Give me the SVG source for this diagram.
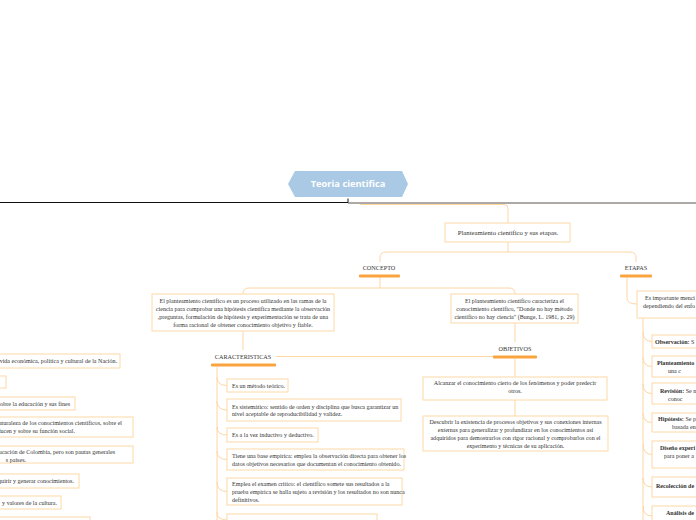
<svg xmlns="http://www.w3.org/2000/svg" width="696" height="520" viewBox="0 0 696 520">
<style>
.bg{fill:#ffffff}
.node{fill:#ffffff;stroke:#fdd9a6;stroke-width:1}
.con{fill:none;stroke:#fdd6a2;stroke-width:1}
.bar{fill:#f9a43f}
.t{font-family:"Liberation Serif","Times New Roman",serif;font-size:6.05px;fill:#333333}
.tc{text-anchor:middle}
.te{text-anchor:end}
.lbl{font-family:"Liberation Serif","Times New Roman",serif;font-size:6.2px;fill:#333333;text-anchor:middle}
.b{font-weight:bold}
.root{font-family:"Open Sans","DejaVu Sans",sans-serif;font-size:9.3px;font-weight:bold;fill:#ffffff;text-anchor:middle}
</style>
<rect class="bg" x="0" y="0" width="696" height="520"/>

<g id="connectors">
  <line x1="0" y1="202.5" x2="348" y2="202.5" stroke="#111111" stroke-width="1.2"/>
  <line x1="348" y1="203" x2="696" y2="203" stroke="#5a5550" stroke-width="1.2"/>
  <line x1="348" y1="198.5" x2="348" y2="202.5" stroke="#111111" stroke-width="1"/>
  <path class="con" d="M360,204.5 L504,204.5 Q508,204.5 508,208.5 L508,223"/>
  <path class="con" d="M508,242 L508,252"/>
  <path class="con" d="M508,252 L386,252 Q380,252 380,258 L380,262"/>
  <path class="con" d="M508,252 L630,252 Q636,252 636,258 L636,262"/>
  <path class="con" d="M380,277 L380,288"/>
  <path class="con" d="M249,288 L509,288"/>
  <path class="con" d="M249,288 Q243,288 243,294"/>
  <path class="con" d="M509,288 Q515,288 515,294"/>
  <path class="con" d="M243,331 L243,350"/>
  <path class="con" d="M515,323 L515,342"/>
  <path class="con" d="M276,356.5 L493,356.5"/>
  <path class="con" d="M515,359 L515,377"/>
  <path class="con" d="M515,400 L515,416"/>
  <path class="con" d="M217,367 L217,520"/>
  <path class="con" d="M217,377 Q217,385.5 227,385.5"/>
  <path class="con" d="M217,401 Q217,410 227,410"/>
  <path class="con" d="M217,427 Q217,435 227,435"/>
  <path class="con" d="M217,451 Q217,459.5 227,459.5"/>
  <path class="con" d="M217,482 Q217,491.5 227,491.5"/>
  <path class="con" d="M217,512 Q217,520 227,520"/>
  <path class="con" d="M627,278 L627,298 Q627,304 637,304"/>
  <path class="con" d="M643,318 L643,520"/>
  <path class="con" d="M643,332 Q643,341.5 652,341.5"/>
  <path class="con" d="M643,357 Q643,366.5 652,366.5"/>
  <path class="con" d="M643,384 Q643,393.5 652,393.5"/>
  <path class="con" d="M643,413 Q643,422.5 652,422.5"/>
  <path class="con" d="M643,444 Q643,454.5 652,454.5"/>
  <path class="con" d="M643,478 Q643,487 652,487"/>
  <path class="con" d="M643,506 Q643,516 652,516"/>
</g>

<g id="root">
  <polygon points="288,184 295,171 402,171 408,184 402,197 295,197" fill="#a9c9e4"/>
  <text class="root" x="348" y="187.3">Teoria cientifica</text>
</g>

<g id="planteamiento">
  <rect class="node" x="445" y="223" width="125" height="19"/>
  <text class="t tc" x="508" y="234.5" style="font-size:6.7px">Planteamiento científico y sus etapas.</text>
</g>

<g id="concepto">
  <text class="lbl" x="379" y="270">CONCEPTO</text>
  <rect class="bar" x="359" y="274.5" width="41" height="3" rx="1"/>
</g>

<g id="etapas">
  <text class="lbl" x="636" y="270">ETAPAS</text>
  <rect class="bar" x="620" y="274.5" width="32" height="3" rx="1"/>
</g>

<g id="concepto-def">
  <rect class="node" x="152" y="294" width="182" height="37"/>
  <text class="t tc" x="243" y="302.5">El planteamiento científico es un proceso utilizado en las ramas de la</text>
  <text class="t tc" x="243" y="310.5">ciencia para comprobar una hipótesis científica mediante la observación</text>
  <text class="t tc" x="243" y="318.5">,preguntas, formulación  de hipótesis y experimentación se trata de una</text>
  <text class="t tc" x="243" y="326.5">forma racional de obtener conocimiento objetivo y fiable.</text>
</g>

<g id="concepto-bunge">
  <rect class="node" x="451" y="294" width="127" height="29"/>
  <text class="t tc" x="514.5" y="302.5">El planteamiento científico caracteriza el</text>
  <text class="t tc" x="514.5" y="310.5">conocimiento científico, "Donde no hay método</text>
  <text class="t tc" x="514.5" y="318.5">científico no hay ciencia" (Bunge, L. 1981, p. 29)</text>
</g>

<g id="caracteristicas">
  <text class="lbl" x="243" y="359">CARACTERISTICAS</text>
  <rect class="bar" x="211" y="363.5" width="65" height="3" rx="1"/>
</g>

<g id="objetivos">
  <text class="lbl" x="515" y="351">OBJETIVOS</text>
  <rect class="bar" x="493" y="355.5" width="44" height="3" rx="1"/>
</g>

<g id="car-1">
  <rect class="node" x="227" y="379" width="61" height="13"/>
  <text class="t" x="232" y="387.5">Es un método teórico.</text>
</g>
<g id="car-2">
  <rect class="node" x="227" y="399" width="174" height="22"/>
  <text class="t" x="232" y="408.5">Es sistemático: sentido de orden y disciplina que busca garantizar un</text>
  <text class="t" x="232" y="416">nivel aceptable de reproducibilidad y validez.</text>
</g>
<g id="car-3">
  <rect class="node" x="227" y="428" width="91" height="14"/>
  <text class="t" x="232" y="437"> Es a la vez inductivo y deductivo.</text>
</g>
<g id="car-4">
  <rect class="node" x="227" y="449" width="177" height="21"/>
  <text class="t" x="232" y="457.5">Tiene una base empírica: emplea la observación directa para obtener los</text>
  <text class="t" x="232" y="465.5">datos objetivos necesarios que documentan el conocimiento obtenido.</text>
</g>
<g id="car-5">
  <rect class="node" x="227" y="478" width="175" height="27"/>
  <text class="t" x="232" y="486"> Emplea el examen crítico: el científico somete sus resultados a la</text>
  <text class="t" x="232" y="494">prueba empírica se halla sujeto a revisión y los resultados no son nunca</text>
  <text class="t" x="232" y="502">definitivos.</text>
</g>
<g id="car-6">
  <rect class="node" x="227" y="514" width="150" height="20"/>
</g>

<g id="obj-1">
  <rect class="node" x="423" y="377" width="184" height="23"/>
  <text class="t tc" x="515" y="384.5">Alcanzar el conocimiento cierto de los fenómenos y poder predecir</text>
  <text class="t tc" x="515" y="392.5">otros.</text>
</g>
<g id="obj-2">
  <rect class="node" x="423" y="416" width="185" height="35"/>
  <text class="t tc" x="515.5" y="424">Descubrir la existencia de procesos objetivos y sus conexiones internas</text>
  <text class="t tc" x="515.5" y="432">externas para generalizar y profundizar en los conocimientos así</text>
  <text class="t tc" x="515.5" y="439.5">adquiridos   para demostrarlos con rigor racional y comprobarlos con el</text>
  <text class="t tc" x="515.5" y="447.5">experimento y técnicas de su aplicación.</text>
</g>

<g id="etapas-intro">
  <rect class="node" x="637" y="291" width="70" height="27"/>
  <text class="t" x="645" y="299.5">Es importante menci</text>
  <text class="t" x="643" y="307.5">dependiendo del enfo</text>
</g>
<g id="et-1">
  <rect class="node" x="652" y="335" width="60" height="13"/>
  <text class="t" x="655" y="343.5"><tspan class="b">Observación:</tspan> S</text>
</g>
<g id="et-2">
  <rect class="node" x="652" y="356" width="60" height="21"/>
  <text class="t" x="657" y="364.5"><tspan class="b">Planteamiento</tspan></text>
  <text class="t" x="668" y="372.5">una c</text>
</g>
<g id="et-3">
  <rect class="node" x="652" y="383" width="60" height="21"/>
  <text class="t" x="660" y="393"><tspan class="b">Revisión:</tspan> Se n</text>
  <text class="t" x="668" y="400.5">conoc</text>
</g>
<g id="et-4">
  <rect class="node" x="652" y="413" width="60" height="19"/>
  <text class="t" x="658" y="420.5"><tspan class="b">Hipótesis:</tspan> Se p</text>
  <text class="t" x="672" y="429">basada en</text>
</g>
<g id="et-5">
  <rect class="node" x="652" y="441" width="60" height="27"/>
  <text class="t" x="660" y="449.5"><tspan class="b">Diseño experi</tspan></text>
  <text class="t" x="664" y="457.5">para poner a</text>
</g>
<g id="et-6">
  <rect class="node" x="652" y="477" width="60" height="20"/>
  <text class="t" x="656" y="488"><tspan class="b">Recolección de</tspan></text>
</g>
<g id="et-7">
  <rect class="node" x="652" y="506" width="60" height="20"/>
  <text class="t" x="666" y="514.5"><tspan class="b">Análisis de</tspan></text>
</g>

<g id="left-1">
  <rect class="node" x="-20" y="354" width="140" height="14"/>
  <text class="t te" x="117" y="363">vida económica, política y cultural de la Nación.</text>
</g>
<g id="left-2">
  <rect class="node" x="-20" y="376" width="26" height="12"/>
</g>
<g id="left-3">
  <rect class="node" x="-20" y="397" width="95" height="13"/>
  <text class="t te" x="70" y="405.5">sobre la educación y sus fines</text>
</g>
<g id="left-4">
  <rect class="node" x="-20" y="417" width="153" height="20"/>
  <text class="t te" x="122" y="425">naturaleza de los conocimientos científicos, sobre el</text>
  <text class="t te" x="75" y="433">ducen y sobre su función social.</text>
</g>
<g id="left-5">
  <rect class="node" x="-20" y="446" width="153" height="17"/>
  <text class="t te" x="115" y="454">ucación de Colombia, pero son pautas generales</text>
  <text class="t te" x="26" y="461.5">s países.</text>
</g>
<g id="left-6">
  <rect class="node" x="-20" y="474" width="99" height="14"/>
  <text class="t te" x="74" y="483">quirir y generar conocimientos.</text>
</g>
<g id="left-7">
  <rect class="node" x="-20" y="496" width="81" height="13"/>
  <text class="t te" x="57" y="504.5">y valores de la cultura.</text>
</g>
<g id="left-8">
  <rect class="node" x="-20" y="517" width="110" height="20"/>
</g>
</svg>
